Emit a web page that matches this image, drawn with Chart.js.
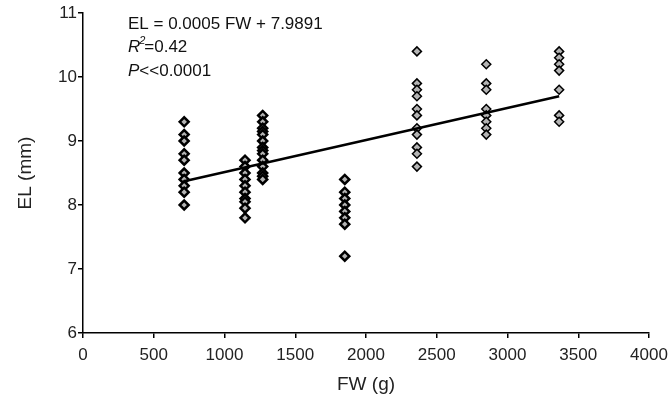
<!DOCTYPE html>
<html>
<head>
<meta charset="utf-8">
<script src="https://cdn.jsdelivr.net/npm/chart.js@4"></script>
<style>
  body { margin: 0; background: #fff; }
  #wrap { width: 670px; height: 400px; }
</style>
</head>
<body>
<div id="wrap"><canvas id="chart-1" width="670" height="400"></canvas></div>
<script>
// FW (g) of each fish group and the EL (mm) values
const groupFW = [715, 1145, 1270, 1850, 2360, 2850, 3365];
const group1EL = [9.3, 9.1, 9.0, 8.8, 8.7, 8.5, 8.4, 8.3, 8.2, 8.0];
const group2EL = [8.7, 8.6, 8.5, 8.4, 8.3, 8.2, 8.1, 8.05, 7.95, 7.8];
const group3EL = [9.4, 9.3, 9.2, 9.15, 9.1, 9.0, 8.9, 8.85, 8.8, 8.7, 8.6, 8.5, 8.45, 8.4];
const group4EL = [8.4, 8.2, 8.1, 8.0, 7.9, 7.8, 7.7, 7.2];
const group5EL = [10.4, 9.9, 9.8, 9.7, 9.5, 9.4, 9.2, 9.1, 8.9, 8.8, 8.6];
const group6EL = [10.2, 9.9, 9.8, 9.5, 9.4, 9.3, 9.2, 9.1];
const group7EL = [10.4, 10.3, 10.2, 10.1, 9.8, 9.4, 9.3];
const groupsEL = [group1EL, group2EL, group3EL, group4EL, group5EL, group6EL, group7EL];

// regression line (EL = 0.0005 FW + 7.9891), ends as drawn in the figure
const fitFW = [715, 3365];
const fitEL = [8.37, 9.7];

const xTicks = [0, 500, 1000, 1500, 2000, 2500, 3000, 3500, 4000];
const yTicks = [6, 7, 8, 9, 10, 11];

const FONT = "'Liberation Sans Narrow', 'Liberation Sans', sans-serif";

// darker looking clusters on the left (many overlapping fish)
const borderWidths = [2.5, 2.5, 2.5, 2.5, 1.5, 1.5, 1.5];

const datasets = groupsEL.map((vals, i) => ({
  type: "scatter",
  data: vals.map((v) => ({ x: groupFW[i], y: v })),
  pointStyle: "rectRot",
  pointRadius: 4.5,
  backgroundColor: "#b4b4b4",
  borderColor: "#000",
  borderWidth: borderWidths[i],
  order: 2,
}));

datasets.push({
  type: "line",
  data: fitFW.map((x, i) => ({ x: x, y: fitEL[i] })),
  borderColor: "#000",
  borderWidth: 2.5,
  pointRadius: 0,
  fill: false,
  order: 1,
});

const annotation = {
  id: "annotation",
  afterDraw(chart) {
    const c = chart.ctx;
    c.save();
    c.fillStyle = "#111";
    c.textBaseline = "alphabetic";
    c.font = "17px " + FONT;
    c.fillText("EL = 0.0005 FW + 7.9891", 128, 29);
    c.font = "italic 17px " + FONT;
    c.fillText("R", 128, 52);
    const rw = c.measureText("R").width;
    c.font = "italic 11px " + FONT;
    c.fillText("2", 128 + rw - 1, 44);
    c.font = "17px " + FONT;
    c.fillText("=0.42", 128 + rw + 4, 52);
    c.font = "italic 17px " + FONT;
    c.fillText("P", 128, 76);
    const pw = c.measureText("P").width;
    c.font = "17px " + FONT;
    c.fillText("<<0.0001", 128 + pw, 76);
    c.restore();
  },
};

const ctx = document.getElementById("chart-1").getContext("2d");
const myChart = new Chart(ctx, {
  data: { datasets: datasets },
  plugins: [annotation],
  options: {
    responsive: false,
    animation: false,
    layout: { padding: { top: 13, right: 21, left: 0, bottom: 0 } },
    plugins: { legend: { display: false }, tooltip: { enabled: false } },
    scales: {
      x: {
        type: "linear",
        min: 0,
        max: 4000,
        afterBuildTicks: (scale) => {
          scale.ticks = xTicks.map((v) => ({ value: v }));
        },
        afterFit: (scale) => {
          scale.height = 67;
          scale.paddingLeft = 0;
          scale.paddingRight = 0;
        },
        grid: { display: true, drawOnChartArea: false, drawTicks: true, tickLength: 5, color: "#000", lineWidth: 1.5 },
        border: { color: "#000", width: 1.5 },
        ticks: { color: "#222", font: { family: FONT, size: 17 }, padding: 7, maxRotation: 0, callback: (v) => String(v) },
        title: { display: true, text: "FW (g)", color: "#222", font: { family: FONT, size: 19 }, padding: { top: 3 } },
      },
      y: {
        type: "linear",
        min: 6,
        max: 11,
        afterBuildTicks: (scale) => {
          scale.ticks = yTicks.map((v) => ({ value: v }));
        },
        afterFit: (scale) => {
          scale.width = 83;
          scale.paddingTop = 0;
          scale.paddingBottom = 0;
        },
        grid: { display: true, drawOnChartArea: false, drawTicks: true, tickLength: 5, color: "#000", lineWidth: 1.5 },
        border: { color: "#000", width: 1.5 },
        ticks: { color: "#222", font: { family: FONT, size: 17 }, padding: 1, callback: (v) => String(v) },
        title: { display: true, text: "EL (mm)", color: "#222", font: { family: FONT, size: 19 }, padding: { top: 14, bottom: 0 } },
      },
    },
  },
});
</script>
</body>
</html>
